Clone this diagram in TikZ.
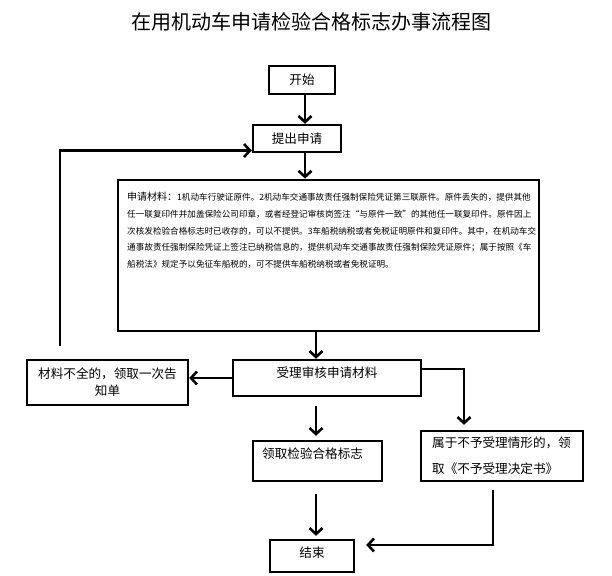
\documentclass[tikz,border=0pt]{standalone}
\usepackage{fontspec}
\setmainfont{Noto Sans CJK SC}
\usetikzlibrary{arrows.meta}
\XeTeXlinebreaklocale "zh"
\XeTeXlinebreakskip=0pt plus 3pt
\tikzset{
  box/.style={draw=black, line width=2.4pt, inner sep=0pt, minimum width=#1},
  arr/.style={line width=2.8pt, -{Straight Barb[length=6pt,width=13pt,line width=2.6pt]}},
  lbl/.style={inner sep=0pt, font=\fontsize{12.6}{17}\selectfont},
  small/.style={inner sep=0pt, anchor=base west, font=\fontsize{8.6}{10}\selectfont}
}
\begin{document}
\begin{tikzpicture}[x=1pt,y=-1pt]
\useasboundingbox (0,0) rectangle (612,575);
\fill[white] (0,0) rectangle (612,575);
% title
\node[inner sep=0pt, font=\fontsize{20}{24}\selectfont] (title) at (311,22) {在用机动车申请检验合格标志办事流程图};
% boxes
\node[box=66pt, minimum height=28pt, lbl] (start) at (302,80) {开始};
\node[box=88pt, minimum height=27pt, lbl] (apply) at (297,138.5) {提出申请};
\node[box=421pt, minimum height=151pt, line width=2.8pt] (big) at (328.5,255.5) {};
\node[box=188pt, minimum height=36pt] (accept) at (327,378) {};
\node[lbl] (accepttxt) at (327,373) {受理审核申请材料};
\node[box=161pt, minimum height=45pt, lbl, align=center] (left) at (107.5,382.5) {材料不全的，领取一次告\\知单};
\node[box=129pt, minimum height=40pt] (get) at (317.5,461) {};
\node[lbl, anchor=west] (gettxt) at (262,454) {领取检验合格标志};
\node[box=162pt, minimum height=50pt] (right) at (502,456) {};
\node[inner sep=0pt, font=\fontsize{12.6}{26}\selectfont, align=left, anchor=west] (righttxt) at (432,456) {属于不予受理情形的，领\\取《不予受理决定书》};
\node[box=84pt, minimum height=32pt] (end) at (312,556) {};
\node[lbl] (endtxt) at (312,553) {结束};
% material text
\node[small] (m1) at (127,200.5) {\makebox[404pt][s]{{\fontsize{10}{12}\selectfont 申请材料：}1机动车行驶证原件。2机动车交通事故责任强制保险凭证第三联原件。原件丢失的，提供其他}};
\node[small] (m2) at (127,217.3) {\makebox[404pt][s]{任一联复印件并加盖保险公司印章，或者经登记审核岗签注“与原件一致”的其他任一联复印件。原件因上}};
\node[small] (m3) at (127,234.1) {\makebox[404pt][s]{次核发检验合格标志时已收存的，可以不提供。3车船税纳税或者免税证明原件和复印件。其中，在机动车交}};
\node[small] (m4) at (127,250.9) {\makebox[404pt][s]{通事故责任强制保险凭证上签注已纳税信息的，提供机动车交通事故责任强制保险凭证原件；属于按照《车}};
\node[small] (m5) at (127,267.7) {船税法》规定予以免征车船税的，可不提供车船税纳税或者免税证明。};
% connectors
\draw[arr] ([xshift=3pt]start.south) -- ([xshift=8pt]apply.north);
\draw[arr] ([xshift=8pt]apply.south) -- ([xshift=8pt]apply.south |- big.north);
\draw[arr] ([xshift=-11pt]accept.north |- big.south) -- ([xshift=-11pt]accept.north);
\draw[arr] (accept.west) -- (accept.west -| left.east);
\draw[arr] ([xshift=-47.5pt,yshift=13pt]left.north) |- ([yshift=-12pt]apply.west);
\draw[arr] ([xshift=-11pt,yshift=-9pt]accept.south) -- ([xshift=-1.5pt,yshift=4pt]get.north);
\draw[arr] ([yshift=9pt]accept.east) -| ([xshift=-38pt,yshift=5pt]right.north);
\draw[arr] ([xshift=-1.5pt,yshift=-12pt]get.south) -- ([xshift=4pt,yshift=3pt]end.north);
\draw[arr] ([xshift=-9pt,yshift=-8pt]right.south) |- ([xshift=11pt,yshift=11pt]end.east);
\end{tikzpicture}
\end{document}
